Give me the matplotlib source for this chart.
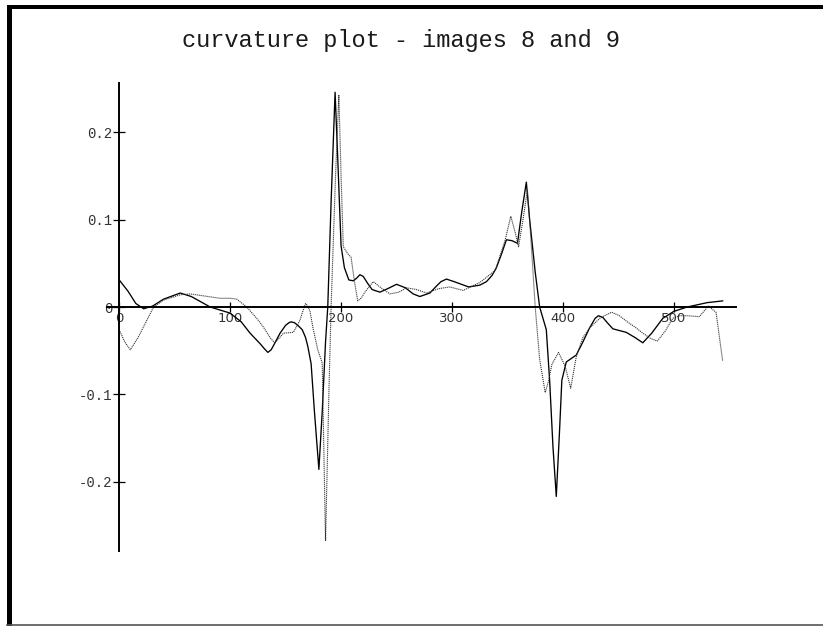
import matplotlib
matplotlib.use("Agg")
import matplotlib.pyplot as plt
from matplotlib.patches import Rectangle
from matplotlib.lines import Line2D

# curvature along the contour, image 8 (solid) and image 9 (dotted)
x_img8 = [0, 8, 15, 22, 30, 40, 55, 65, 82, 100, 110, 118, 127, 131, 134, 137,
          140, 145, 150, 153, 155, 158, 161, 165, 168, 170, 173, 176, 180, 183,
          186, 188, 191, 194.6, 197, 200, 203, 207, 211, 214, 217, 220, 224,
          228, 235, 242, 250, 258, 265, 271, 280, 286, 290, 295, 302, 315, 325,
          331, 336, 340, 345, 349, 354, 359, 363, 367, 370, 375, 379, 385, 388,
          391, 394, 397, 399, 403, 412, 418, 424, 429, 432, 436, 440, 445, 457,
          465, 472, 480, 490, 500, 512, 530, 544]
k_img8 = [0.031, 0.018, 0.004, -0.002, 0.001, 0.009, 0.016, 0.012, 0.0, -0.007,
          -0.017, -0.03, -0.042, -0.048, -0.052, -0.049, -0.042, -0.03, -0.021,
          -0.018, -0.017, -0.018, -0.021, -0.026, -0.035, -0.045, -0.065,
          -0.12, -0.186, -0.12, -0.04, 0.0, 0.12, 0.246, 0.17, 0.07, 0.045,
          0.031, 0.03, 0.033, 0.037, 0.035, 0.027, 0.02, 0.017, 0.021, 0.026,
          0.022, 0.015, 0.012, 0.016, 0.024, 0.029, 0.032, 0.029, 0.023, 0.025,
          0.029, 0.036, 0.045, 0.062, 0.077, 0.076, 0.073, 0.11, 0.143, 0.1,
          0.04, 0.0, -0.026, -0.084, -0.16, -0.217, -0.14, -0.084, -0.063,
          -0.055, -0.04, -0.024, -0.013, -0.01, -0.012, -0.018, -0.025, -0.029,
          -0.035, -0.041, -0.03, -0.013, -0.005, 0.0, 0.005, 0.007]

x_img9 = [0, 5, 10, 17, 25, 31, 40, 55, 64, 80, 91, 100, 106, 110, 115, 124,
          130, 136, 140, 144, 148, 157, 163, 166, 168, 170, 172, 175, 179, 183,
          186, 189, 191, 195, 198, 200, 202, 206, 209, 212, 215, 218, 222, 229,
          236, 244, 252, 259, 268, 277, 288, 298, 310, 325, 339, 348, 353, 357,
          360, 364, 368, 371, 375, 379, 384, 387, 390, 396, 402, 407, 412, 418,
          424, 434, 444, 451, 458, 465, 472, 479, 485, 492, 499, 505, 512, 523,
          531, 538, 544]
k_img9 = [-0.026, -0.04, -0.049, -0.035, -0.015, 0.0, 0.008, 0.014, 0.015, 0.012,
          0.01, 0.01, 0.009, 0.005, 0.0, -0.013, -0.023, -0.035, -0.041, -0.036,
          -0.03, -0.029, -0.015, -0.003, 0.004, 0.001, -0.005, -0.026, -0.049,
          -0.064, -0.268, -0.1, 0.0, 0.15, 0.243, 0.15, 0.069, 0.061, 0.057,
          0.03, 0.007, 0.01, 0.018, 0.029, 0.022, 0.015, 0.017, 0.022, 0.02,
          0.016, 0.021, 0.023, 0.019, 0.028, 0.042, 0.077, 0.104, 0.085, 0.069,
          0.1, 0.134, 0.08, 0.0, -0.06, -0.098, -0.085, -0.066, -0.052, -0.068,
          -0.093, -0.057, -0.035, -0.024, -0.012, -0.006, -0.01, -0.017, -0.023,
          -0.03, -0.036, -0.039, -0.028, -0.013, -0.01, -0.01, -0.011, 0.001,
          -0.006, -0.062]

xticks = [0, 100, 200, 300, 400, 500]
yticks = [-0.2, -0.1, 0, 0.1, 0.2]
ytick_labels = ["-0.2", "-0.1", "0", "0.1", "0.2"]

W, H = 823, 626
fig = plt.figure(figsize=(W / 100, H / 100), dpi=100)

# axes placed in pixel terms
left, right, top, bottom = 107, 736, 83, 551
ax = fig.add_axes([left / W, 1 - bottom / H, (right - left) / W, (bottom - top) / H])

ax.plot(x_img8, k_img8, color="black", lw=0.95, solid_joinstyle="round")
ax.plot(x_img9, k_img9, color="#333333", lw=0.8, linestyle=(0, (1, 0.8)))

ax.set_xlim(-11, 556)
ax.set_ylim(-0.2795, 0.2566)

for side in ("top", "right"):
    ax.spines[side].set_visible(False)
ax.spines["left"].set_position(("data", 0))
ax.spines["bottom"].set_position(("data", 0))
ax.spines["left"].set_linewidth(1.4)
ax.spines["bottom"].set_linewidth(1.4)

ax.set_xticks(xticks)
ax.set_xticklabels([str(t) for t in xticks], fontfamily="DejaVu Sans",
                   fontsize=9.5, color="#333333")
ax.set_yticks(yticks)
ax.set_yticklabels(ytick_labels, fontfamily="Liberation Mono", fontsize=10,
                   color="#333333")
ax.tick_params(axis="x", direction="inout", length=7, width=0.9, pad=0)
ax.tick_params(axis="y", direction="inout", length=8, width=0.9, pad=1)

fig.text(401 / W, 1 - 40 / H, "curvature plot - images 8 and 9",
         fontfamily="Liberation Mono", fontsize=17, ha="center", va="center",
         color="#1a1a1a")

# window frame
fig.add_artist(Rectangle((7 / W, 0), 5 / W, 1 - 5 / H, transform=fig.transFigure,
                         color="black", lw=0))
fig.add_artist(Rectangle((7 / W, 1 - 9 / H), 1 - 7 / W, 4 / H,
                         transform=fig.transFigure, color="black", lw=0))
fig.add_artist(Line2D([7 / W, 1], [1 - 624.5 / H, 1 - 624.5 / H],
                      transform=fig.transFigure, color="#555555", lw=1.2))

fig.savefig("out.png", dpi=100)
